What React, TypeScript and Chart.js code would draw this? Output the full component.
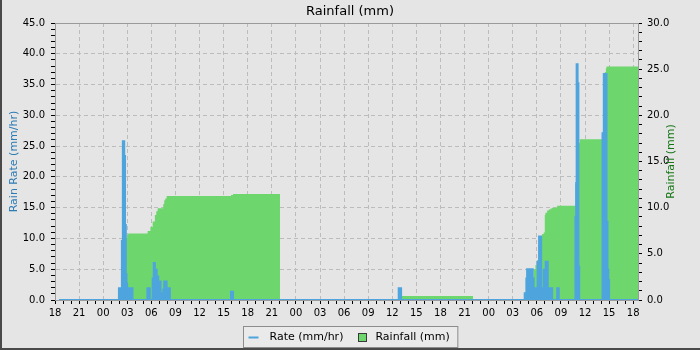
import React, { useEffect, useRef } from 'react';
import { Chart, registerables } from 'chart.js';

Chart.register(...registerables);

// ---- data (hours counted from 18:00 of the first day) ----
const START_HOUR = 18;
const X_MAX = 72.6;

const rateHours = [
  0.5, 7.96, 8.33, 8.45, 8.62, 8.72, 8.82, 8.9, 8.98, 9.1, 9.3, 9.4, 9.65,
  11.5, 11.8, 12.16, 12.3, 12.44, 12.66, 12.86, 13.15, 13.3, 13.48, 13.6, 13.9, 14.31,
  21.92, 22.17,
  42.8, 43.1,
  58.49, 58.7, 58.79, 59.49, 59.61, 59.91, 60.1, 60.28, 60.54, 60.86, 61.1, 61.36,
  61.53, 61.73, 61.91, 62.53, 62.73,
  64.81, 64.9, 64.96, 65.08, 65.18, 65.28,
  68.18, 68.34, 68.68, 68.8, 68.9, 69.0,
  72.6,
];
const rateValues = [
  0, 1.9, 9.6, 25.8, 23.4, 12.2, 4.2, 2.7, 0, 1.9, 1.2, 1.9, 0,
  1.9, 0, 3.5, 6.0, 4.9, 3.8, 3.0, 1.1, 0, 1.7, 3.0, 1.9, 0,
  1.35, 0,
  1.9, 0,
  1.1, 3.5, 5.0, 3.5, 1.9, 0, 6.2, 10.3, 1.9, 4.9, 6.2, 1.9,
  0.5, 1.9, 0, 1.9, 0,
  13.5, 19.0, 38.3, 35.2, 5.4, 0,
  27.1, 36.7, 12.7, 4.9, 3.2, 0,
  0,
];

const rainHours = [
  8.7, 8.79, 8.99, 9.11, 11.53, 11.88, 12.16, 12.44, 12.61, 12.78, 13.48, 13.6,
  13.73, 13.9, 21.92, 22.17, 28.03, 28.1,
  43.08, 52.06, 52.1,
  58.7, 59.2, 59.33, 59.45, 59.61, 59.83, 60.04, 60.24, 60.45, 60.66, 60.86, 60.99,
  61.07, 61.28, 61.48, 61.7, 61.91, 62.53, 64.81, 64.94, 65.18, 65.35, 68.14, 68.3,
  68.47, 68.6, 68.68, 72.6,
];
const rainValues: (number | null)[] = [
  6.68, 6.75, 7.04, 7.2, 7.47, 7.9, 8.5, 9.2, 9.6, 9.93, 10.4, 10.8,
  11.0, 11.26, 11.37, 11.48, 11.48, null,
  0.43, 0.43, null,
  0.6, 0.7, 1.5, 2.5, 3.3, 3.8, 4.3, 5.8, 6.9, 7.15, 7.3, 9.2,
  9.46, 9.7, 9.8, 9.9, 10.0, 10.2, 12.5, 14.0, 17.0, 17.4, 18.05, 21.0,
  24.7, 25.1, 25.3, 25.3,
];

const RATE_MAX = 45;
const RAIN_MAX = 30;
const TITLE = 'Rainfall (mm)';
const RATE_LABEL = 'Rate (mm/hr)';
const RAIN_LABEL = 'Rainfall (mm)';
const LEFT_AXIS_TITLE = 'Rain Rate (mm/hr)';
const RIGHT_AXIS_TITLE = 'Rainfall (mm)';

// ---- styles ----
const FONT = "'DejaVu Sans', sans-serif";
const BG = '#e5e5e5';
const GRID = '#bcbcbc';
const FRAME = '#9a9a9a';
const BLUE = '#4ea5de';
const GREEN = '#6dd66d';
const LEFT_TITLE_COLOR = '#2b7bb5';
const RIGHT_TITLE_COLOR = '#167516';
const CLEAR = 'rgba(0,0,0,0)';
const DASH = [4, 3];

const rateData = rateHours.map((h, i) => ({ x: h, y: rateValues[i] }));
const rainData = rainHours.map((h, i) => ({ x: h, y: rainValues[i] }));

const decorPlugin = {
  id: 'decor',
  beforeDraw(chart: any) {
    const { ctx, width, height } = chart;
    ctx.save();
    ctx.fillStyle = BG;
    ctx.fillRect(0, 0, width, height);
    ctx.fillStyle = '#4a4a4a';
    ctx.fillRect(0, 0, 2, height);
    ctx.fillRect(0, height - 2, width, 2);
    ctx.restore();
  },
  beforeDatasetsDraw(chart: any) {
    const { ctx, chartArea: a } = chart;
    ctx.save();
    ctx.strokeStyle = FRAME;
    ctx.lineWidth = 1;
    ctx.beginPath();
    ctx.moveTo(a.left, Math.round(a.top) + 0.5);
    ctx.lineTo(a.right, Math.round(a.top) + 0.5);
    ctx.stroke();
    ctx.restore();
  },
  afterDraw(chart: any) {
    const { ctx, chartArea: a } = chart;
    const midY = (a.top + a.bottom) / 2;
    ctx.save();
    ctx.font = `11px ${FONT}`;
    ctx.textAlign = 'center';
    ctx.textBaseline = 'middle';
    // axis titles (both read bottom-to-top)
    ctx.save();
    ctx.translate(14, midY);
    ctx.rotate(-Math.PI / 2);
    ctx.fillStyle = LEFT_TITLE_COLOR;
    ctx.fillText(LEFT_AXIS_TITLE, 0, 0);
    ctx.restore();
    ctx.save();
    ctx.translate(671, midY);
    ctx.rotate(-Math.PI / 2);
    ctx.fillStyle = RIGHT_TITLE_COLOR;
    ctx.fillText(RIGHT_AXIS_TITLE, 0, 0);
    ctx.restore();

    // legend
    ctx.textAlign = 'left';
    const w1 = ctx.measureText(RATE_LABEL).width;
    const w2 = ctx.measureText(RAIN_LABEL).width;
    const padL = 5, lineW = 10, gap1 = 11, gapItems = 15, sq = 8, gap2 = 9, padR = 8;
    const boxW = padL + lineW + gap1 + w1 + gapItems + sq + gap2 + w2 + padR;
    const boxH = 21;
    const bx = Math.round(350.5 - boxW / 2) + 0.5;
    const by = 326.5;
    ctx.fillStyle = '#eaeaea';
    ctx.fillRect(bx, by, boxW, boxH);
    ctx.strokeStyle = '#8c8c8c';
    ctx.lineWidth = 1;
    ctx.strokeRect(bx, by, boxW, boxH);
    const cy = by + boxH / 2;
    let x = bx + padL;
    ctx.strokeStyle = BLUE;
    ctx.lineWidth = 2;
    ctx.beginPath();
    ctx.moveTo(x, Math.round(cy) + 0.5);
    ctx.lineTo(x + lineW, Math.round(cy) + 0.5);
    ctx.stroke();
    x += lineW + gap1;
    ctx.fillStyle = '#000';
    ctx.fillText(RATE_LABEL, x, cy);
    x += w1 + gapItems;
    ctx.fillStyle = GREEN;
    const sy = Math.round(cy - sq / 2) + 0.5;
    ctx.fillRect(Math.round(x) + 0.5, sy, sq, sq);
    ctx.strokeStyle = '#3a3a3a';
    ctx.lineWidth = 1;
    ctx.strokeRect(Math.round(x) + 0.5, sy, sq, sq);
    x += sq + gap2;
    ctx.fillStyle = '#000';
    ctx.fillText(RAIN_LABEL, x, cy);
    ctx.restore();
  },
};

const pad2 = (n: number) => (n < 10 ? '0' + n : String(n));

export default function App() {
  const ref = useRef<HTMLCanvasElement>(null);

  useEffect(() => {
    if (!ref.current) return;
    const tickFont = { family: FONT, size: 10 };
    const chart = new Chart(ref.current, {
      type: 'line',
      data: {
        datasets: [
          {
            label: RATE_LABEL,
            data: rateData,
            yAxisID: 'y',
            borderColor: BLUE,
            backgroundColor: BLUE,
            borderWidth: 2,
            stepped: 'before',
            fill: 'origin',
            pointRadius: 0,
            pointHoverRadius: 0,
          },
          {
            label: RAIN_LABEL,
            data: rainData,
            yAxisID: 'y1',
            borderColor: GREEN,
            backgroundColor: GREEN,
            borderWidth: 0,
            stepped: 'before',
            fill: 'origin',
            spanGaps: false,
            pointRadius: 0,
            pointHoverRadius: 0,
          },
        ],
      } as any,
      options: {
        responsive: false,
        animation: false,
        devicePixelRatio: 1,
        events: [],
        layout: { padding: 0, autoPadding: false },
        plugins: {
          legend: { display: false },
          tooltip: { enabled: false },
          title: {
            display: true,
            text: TITLE,
            color: '#000',
            font: { family: FONT, size: 13, weight: 'normal' },
            padding: { top: 4, bottom: 3.4 },
          },
        },
        scales: {
          x: {
            type: 'linear',
            min: 0,
            max: X_MAX,
            afterFit: (s: any) => { s.height = 50; },
            ticks: {
              stepSize: 1,
              autoSkip: false,
              includeBounds: false,
              maxRotation: 0,
              minRotation: 0,
              padding: 3,
              color: '#000',
              font: tickFont,
              callback: (v: any) => (v % 3 === 0 ? pad2((START_HOUR + v) % 24) : ''),
            },
            grid: {
              color: (c: any) => (c.tick && c.tick.value % 3 === 0 && c.tick.value > 0 ? GRID : CLEAR),
              tickColor: '#000',
              tickLength: 4,
              lineWidth: 1,
            },
            border: { display: true, color: FRAME, dash: DASH },
          },
          y: {
            type: 'linear',
            position: 'left',
            min: 0,
            max: RATE_MAX,
            afterFit: (s: any) => { s.width = 55; },
            ticks: {
              stepSize: 1,
              autoSkip: false,
              padding: 6,
              color: '#000',
              font: tickFont,
              callback: (v: any) => (v % 5 === 0 ? Number(v).toFixed(1) : ''),
            },
            grid: {
              color: (c: any) =>
                c.tick && c.tick.value % 5 === 0 && c.tick.value > 0 && c.tick.value < RATE_MAX ? GRID : CLEAR,
              tickColor: '#000',
              tickLength: 4,
              lineWidth: 1,
            },
            border: { display: true, color: FRAME, dash: DASH },
          },
          y1: {
            type: 'linear',
            position: 'right',
            min: 0,
            max: RAIN_MAX,
            afterFit: (s: any) => { s.width = 62; },
            ticks: {
              stepSize: 1,
              autoSkip: false,
              padding: 5,
              color: '#000',
              font: tickFont,
              callback: (v: any) => (v % 5 === 0 ? Number(v).toFixed(1) : ''),
            },
            grid: {
              drawOnChartArea: false,
              tickColor: '#000',
              tickLength: 4,
              lineWidth: 1,
            },
            border: { display: true, color: FRAME },
          },
        },
      } as any,
      plugins: [decorPlugin],
    });
    return () => chart.destroy();
  }, []);

  return (
    <div style={{ position: 'absolute', left: 0, top: 0, width: 700, height: 350 }}>
      <canvas ref={ref} width={700} height={350} style={{ display: 'block' }} />
    </div>
  );
}
